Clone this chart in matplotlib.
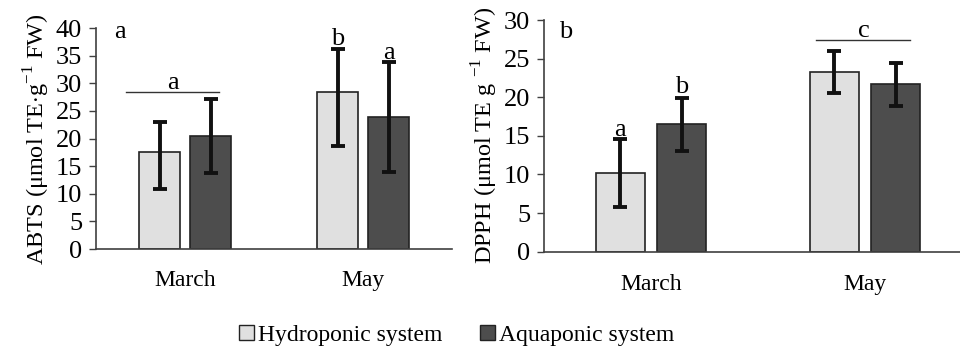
import numpy as np
import matplotlib
matplotlib.use("Agg")
import matplotlib.pyplot as plt
from matplotlib.patches import Patch

plt.rcParams["font.family"] = ["Liberation Serif", "DejaVu Serif"]
plt.rcParams["mathtext.fontset"] = "custom"
plt.rcParams["mathtext.rm"] = "Liberation Serif"

months = ["March", "May"]
series = ["Hydroponic system", "Aquaponic system"]
colors = ["#e0e0e0", "#4d4d4d"]

abts_hydro = [17.6, 28.5]
abts_aqua = [20.4, 23.9]
abts_hydro_lo = [10.9, 18.7]
abts_hydro_hi = [23.0, 36.3]
abts_aqua_lo = [13.7, 14.0]
abts_aqua_hi = [27.2, 33.8]

dpph_hydro = [10.2, 23.3]
dpph_aqua = [16.5, 21.7]
dpph_hydro_lo = [5.8, 20.5]
dpph_hydro_hi = [14.6, 26.0]
dpph_aqua_lo = [13.0, 18.9]
dpph_aqua_hi = [19.9, 24.4]

fs_tick = 19
fs_lab = 17.5
fs_month = 17
fs_let = 19
fig = plt.figure(figsize=(9.6, 3.52), dpi=100)
ax1 = fig.add_axes([0.1, 0.2926, 0.371, 0.6274])
ax2 = fig.add_axes([0.5667, 0.285, 0.4333, 0.658])

w = 0.23
off = 0.143
x = np.arange(len(months))


def draw(ax, hv, av, hlo, hhi, alo, ahi, ymax, step, xr, mpad):
    for vals, lo, hi, c, sgn in [(hv, hlo, hhi, colors[0], -1), (av, alo, ahi, colors[1], 1)]:
        vals = np.array(vals)
        err = [vals - np.array(lo), np.array(hi) - vals]
        ax.bar(x + sgn * off, vals, w, color=c, edgecolor="#222222", linewidth=1.2,
               yerr=err, error_kw=dict(ecolor="#111111", elinewidth=2.8, capsize=5, capthick=2.8))
    ax.set_ylim(0, ymax)
    ax.set_xlim(-0.5, xr)
    ax.set_yticks(np.arange(0, ymax + 1, step))
    ax.set_xticks(x)
    ax.set_xticklabels(months, fontsize=fs_month)
    ax.tick_params(axis="x", length=0, pad=mpad)
    ax.tick_params(axis="y", length=5, width=1, labelsize=fs_tick, pad=5, color="#404040")
    for s in ["top", "right"]:
        ax.spines[s].set_visible(False)
    for s in ["left", "bottom"]:
        ax.spines[s].set_color("#404040")
        ax.spines[s].set_linewidth(1.2)


draw(ax1, abts_hydro, abts_aqua, abts_hydro_lo, abts_hydro_hi, abts_aqua_lo, abts_aqua_hi, 40, 5, 1.5, 15)
draw(ax2, dpph_hydro, dpph_aqua, dpph_hydro_lo, dpph_hydro_hi, dpph_aqua_lo, dpph_aqua_hi, 30, 5, 1.444, 16)

ax1.set_ylabel(r"ABTS ($\mathrm{\mu}$mol TE$\cdot$g$^{-1}$ FW)", fontsize=fs_lab, labelpad=3)
ax2.set_ylabel(r"DPPH ($\mathrm{\mu}$mol TE g $^{-1}$ FW)", fontsize=fs_lab, labelpad=3)

# letters
ax1.text(-0.4, 38.3, "a", fontsize=fs_let)
ax1.plot([-0.33, 0.19], [28.4, 28.4], color="#333333", lw=1)
ax1.text(-0.07, 28.9, "a", fontsize=fs_let, ha="center")
ax1.text(1 - off, 36.9, "b", fontsize=fs_let, ha="center")
ax1.text(1 + off, 34.4, "a", fontsize=fs_let, ha="center")

ax2.text(-0.43, 27.7, "b", fontsize=fs_let)
ax2.plot([0.77, 1.21], [27.4, 27.4], color="#333333", lw=1)
ax2.text(0.995, 27.8, "c", fontsize=fs_let, ha="center")
ax2.text(-off, 15.0, "a", fontsize=fs_let, ha="center")
ax2.text(off, 20.5, "b", fontsize=fs_let, ha="center")

handles = [Patch(facecolor=colors[0], edgecolor="#222222", label=series[0]),
           Patch(facecolor=colors[1], edgecolor="#222222", label=series[1])]
fig.legend(handles=handles, loc="center", bbox_to_anchor=(0.476, 0.048), ncol=2, frameon=False,
           fontsize=17, handlelength=0.6, handleheight=0.6, handletextpad=0.2, columnspacing=1.6)

fig.savefig("out.png", dpi=100)
